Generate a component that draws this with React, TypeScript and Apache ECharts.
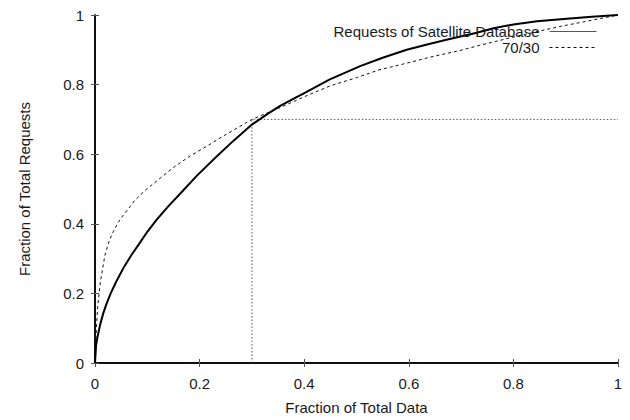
import React, { useEffect, useRef } from "react";
import * as echarts from "echarts";

const xTickLabels = ["0", "0.2", "0.4", "0.6", "0.8", "1"];
const yTickLabels = ["0", "0.2", "0.4", "0.6", "0.8", "1"];

const satelliteName = "Requests of Satellite Database";
const ruleName = "70/30";

const satelliteX = [0, 0.002, 0.005, 0.01, 0.016, 0.022, 0.03, 0.04, 0.054, 0.07, 0.086, 0.1, 0.118, 0.14, 0.165, 0.194, 0.23, 0.265, 0.3, 0.33, 0.354, 0.38, 0.402, 0.449, 0.507, 0.55, 0.596, 0.635, 0.672, 0.73, 0.762, 0.8, 0.845, 0.908, 0.95, 1];
const satelliteY = [0, 0.05, 0.077, 0.111, 0.144, 0.17, 0.2, 0.232, 0.272, 0.311, 0.346, 0.377, 0.412, 0.45, 0.49, 0.537, 0.59, 0.639, 0.685, 0.716, 0.739, 0.76, 0.777, 0.815, 0.853, 0.877, 0.9, 0.915, 0.929, 0.949, 0.962, 0.973, 0.982, 0.99, 0.995, 1];

const ruleX = [0, 0.002, 0.005, 0.01, 0.019, 0.027, 0.035, 0.045, 0.054, 0.067, 0.0765, 0.095, 0.118, 0.15, 0.182, 0.215, 0.245, 0.275, 0.3, 0.354, 0.4, 0.449, 0.5, 0.545, 0.6, 0.641, 0.698, 0.736, 0.793, 0.85, 0.889, 0.95, 1];
const ruleY = [0, 0.08, 0.16, 0.23, 0.31, 0.35, 0.378, 0.405, 0.425, 0.449, 0.468, 0.495, 0.523, 0.562, 0.595, 0.624, 0.652, 0.678, 0.7, 0.734, 0.765, 0.796, 0.82, 0.843, 0.863, 0.879, 0.898, 0.913, 0.934, 0.954, 0.967, 0.985, 1];

const markX = [0.3, 0.3, 1];
const markY = [0, 0.7, 0.7];

const FONT = "'Liberation Sans', Arial, Helvetica, sans-serif";
const FS = 15;

function zip(xs: number[], ys: number[]) {
  return xs.map((x, i) => [x, ys[i]]);
}

export default function App() {
  const ref = useRef<HTMLDivElement>(null);
  useEffect(() => {
    if (!ref.current) return;
    const chart = echarts.init(ref.current, null, { renderer: "svg" });
    const tickIdx = (v: number) => Math.round(v / 0.2);
    const axisCommon = {
      type: "value" as const,
      min: 0,
      max: 1,
      interval: 0.2,
      splitLine: { show: false },
      axisLine: { show: true, lineStyle: { color: "#000", width: 1.5 } },
      axisTick: { show: true, inside: true, length: 4, lineStyle: { color: "#555", width: 1 } },
    };
    const legendCommon = {
      orient: "vertical" as const,
      align: "right" as const,
      right: 33,
      itemWidth: 47,
      itemHeight: 14,
      padding: 0,
      textStyle: { fontFamily: FONT, fontSize: FS, color: "#1a1a1a", padding: [0, 5, 0, 0], lineHeight: 14 },
    };
    chart.setOption({
      animation: false,
      backgroundColor: "#fff",
      textStyle: { fontFamily: FONT },
      grid: { left: 95, right: 12, top: 15, bottom: 54 },
      xAxis: [
        {
          ...axisCommon,
          position: "bottom",
          name: "Fraction of Total Data",
          nameLocation: "middle",
          nameGap: 37,
          nameTextStyle: { fontFamily: FONT, fontSize: FS, color: "#1a1a1a" },
          axisLabel: {
            margin: 13,
            fontFamily: FONT,
            fontSize: FS,
            color: "#1a1a1a",
            formatter: (v: number) => xTickLabels[tickIdx(v)],
          },
        },
        {
          ...axisCommon,
          position: "top",
          axisLabel: { show: false },
        },
      ],
      yAxis: [
        {
          ...axisCommon,
          position: "left",
          name: "Fraction of Total Requests",
          nameLocation: "middle",
          nameGap: 63,
          nameTextStyle: { fontFamily: FONT, fontSize: FS, color: "#1a1a1a" },
          axisLabel: {
            margin: 11,
            fontFamily: FONT,
            fontSize: FS,
            color: "#1a1a1a",
            formatter: (v: number) => yTickLabels[tickIdx(v)],
          },
        },
        {
          ...axisCommon,
          position: "right",
          axisLabel: { show: false },
        },
      ],
      legend: [
        {
          ...legendCommon,
          top: 24,
          data: [
            {
              name: satelliteName,
              itemStyle: { opacity: 0 },
              lineStyle: { width: 1, color: "#555", type: "solid" },
            },
          ],
        },
        {
          ...legendCommon,
          top: 40,
          data: [
            {
              name: ruleName,
              itemStyle: { opacity: 0 },
              lineStyle: { width: 1, color: "#111", type: [3, 3] },
            },
          ],
        },
      ],
      series: [
        {
          name: "marker",
          type: "line",
          data: zip(markX, markY),
          symbol: "none",
          lineStyle: { color: "#555", width: 1, type: [1.5, 2] },
          silent: true,
          z: 1,
        },
        {
          name: ruleName,
          type: "line",
          data: zip(ruleX, ruleY),
          symbol: "none",
          smooth: false,
          itemStyle: { color: "#111" },
          lineStyle: { color: "#111", width: 1, type: [3, 3] },
          z: 2,
        },
        {
          name: satelliteName,
          type: "line",
          data: zip(satelliteX, satelliteY),
          symbol: "none",
          smooth: false,
          itemStyle: { color: "#000" },
          lineStyle: { color: "#000", width: 2, join: "round" },
          z: 3,
        },
      ],
    });
    return () => chart.dispose();
  }, []);
  return <div ref={ref} style={{ width: 630, height: 420, position: "absolute", left: 0, top: 0 }} />;
}
